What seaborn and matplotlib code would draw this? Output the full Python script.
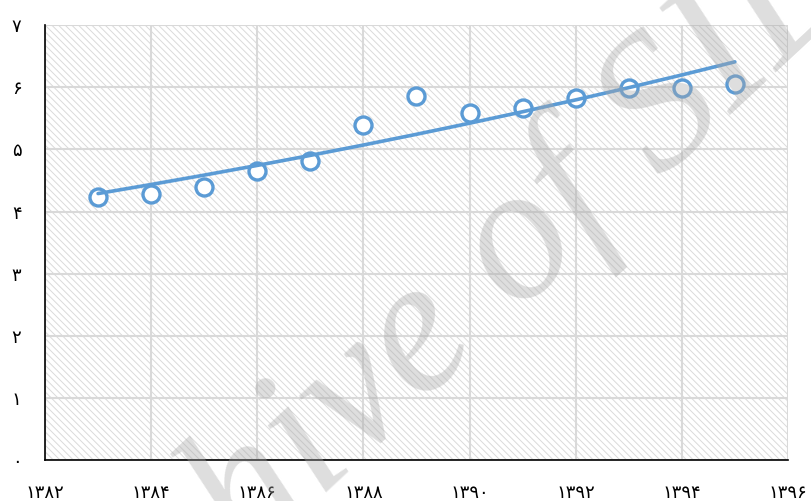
"""
سال‌ها (۱۳۸۳ تا ۱۳۹۵) و مقادیر شاخص با خط روند نمایی.
خروجی: out.png
"""

import matplotlib.pyplot as plt
import numpy as np
import pandas as pd
import seaborn as sns
from matplotlib.patches import Rectangle

YEARS = [1383, 1384, 1385, 1386, 1387, 1388, 1389, 1390, 1391, 1392, 1393, 1394, 1395]
VALUES = [4.24, 4.28, 4.40, 4.65, 4.81, 5.39, 5.86, 5.59, 5.67, 5.83, 5.99, 5.99, 6.05]

X_TICKS = [1382, 1384, 1386, 1388, 1390, 1392, 1394, 1396]
X_LABELS = ["۱۳۸۲", "۱۳۸۴", "۱۳۸۶", "۱۳۸۸", "۱۳۹۰", "۱۳۹۲", "۱۳۹۴", "۱۳۹۶"]
Y_TICKS = [0, 1, 2, 3, 4, 5, 6, 7]
Y_LABELS = ["۰", "۱", "۲", "۳", "۴", "۵", "۶", "۷"]

BLUE = "#5b9bd5"
GRID = "#d9d9d9"


def exp_trend(df: pd.DataFrame) -> pd.DataFrame:
    # خط روند نمایی مثل اکسل: y = a * exp(b x)
    b, ln_a = np.polyfit(df["سال"], np.log(df["مقدار"]), 1)
    return pd.DataFrame({"سال": df["سال"], "روند": np.exp(ln_a + b * df["سال"])})


def main() -> None:
    sns.set_theme(style="white")
    plt.rcParams["font.family"] = ["DejaVu Sans"]
    plt.rcParams["hatch.linewidth"] = 0.7

    df = pd.DataFrame({"سال": YEARS, "مقدار": VALUES})
    trend = exp_trend(df)

    fig = plt.figure(figsize=(8.11, 5.01), dpi=100)
    ax = fig.add_axes([0.0555, 0.0818, 0.916, 0.868])

    # پس‌زمینه هاشور خورده
    bg = Rectangle((0, 0), 1, 1, transform=ax.transAxes, facecolor="white",
                   edgecolor="#dadada", hatch="\\\\\\\\\\", linewidth=0, zorder=0)
    ax.add_patch(bg)

    sns.scatterplot(data=df, x="سال", y="مقدار", ax=ax, s=150, marker="o",
                    facecolor="white", edgecolor=BLUE, linewidth=2.4, zorder=3)
    sns.lineplot(data=trend, x="سال", y="روند", ax=ax, color=BLUE, linewidth=2.6, zorder=4)

    ax.set_xlim(1382, 1396)
    ax.set_ylim(0, 7)
    ax.set_xticks(X_TICKS, X_LABELS)
    ax.set_yticks(Y_TICKS, Y_LABELS)
    ax.tick_params(axis="both", length=0, labelsize=13, colors="black")
    ax.tick_params(axis="x", pad=17)
    ax.tick_params(axis="y", pad=17)
    ax.set_xlabel("")
    ax.set_ylabel("")

    ax.grid(True, color=GRID, linewidth=1.5, zorder=1)
    ax.set_axisbelow(True)
    for side in ["top", "right"]:
        ax.spines[side].set_visible(False)
    for side in ["left", "bottom"]:
        ax.spines[side].set_color("black")
        ax.spines[side].set_linewidth(1.2)

    # واترمارک
    fig.text(0.537, 0.332, "Archive of SID", family=["Liberation Serif"], style="italic",
             fontsize=138, color="#a8a8a8", alpha=0.38, rotation=43,
             ha="center", va="center", zorder=10)

    fig.savefig("out.png", dpi=100)
    plt.close(fig)


if __name__ == "__main__":
    main()
